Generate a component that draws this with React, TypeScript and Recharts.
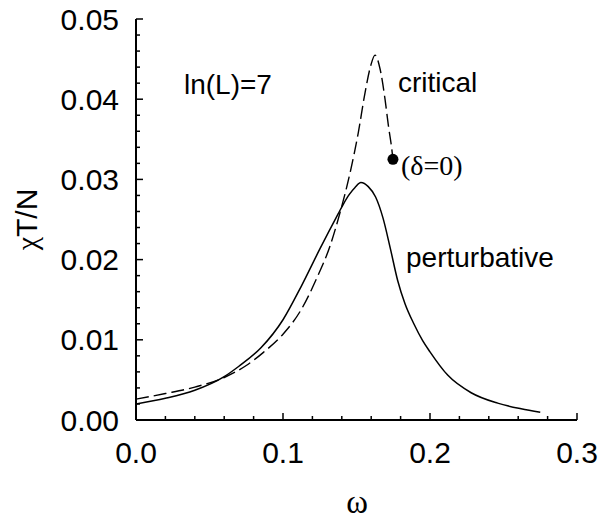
import {ComposedChart, Line, Scatter, XAxis, YAxis} from 'recharts';

// omega values and chi*T/N
const perturbativeX = [0, 0.02, 0.04, 0.06, 0.07, 0.085, 0.1, 0.1125, 0.125, 0.1375, 0.141, 0.145, 0.149, 0.153, 0.158, 0.163, 0.168, 0.173, 0.178, 0.183, 0.189, 0.195, 0.2, 0.212, 0.228, 0.246, 0.262, 0.275];
const perturbativeY = [0.002, 0.0027, 0.0037, 0.0054, 0.0067, 0.009, 0.0125, 0.0167, 0.0213, 0.0257, 0.0269, 0.0281, 0.029, 0.0296, 0.0291, 0.0278, 0.0252, 0.0214, 0.0174, 0.0145, 0.012, 0.0099, 0.0085, 0.0056, 0.0034, 0.0021, 0.0014, 0.00096];

const criticalX = [0, 0.02, 0.04, 0.06, 0.075, 0.0865, 0.1, 0.1125, 0.123, 0.132, 0.1387, 0.1456, 0.1512, 0.1558, 0.1597, 0.1626, 0.166, 0.1694, 0.1717, 0.174, 0.1748];
const criticalY = [0.0026, 0.0033, 0.0041, 0.0053, 0.0068, 0.0084, 0.0107, 0.0138, 0.0177, 0.0217, 0.0258, 0.0308, 0.0358, 0.0408, 0.0442, 0.0455, 0.0438, 0.04, 0.0367, 0.0338, 0.0325];

// end point of the critical curve (delta = 0)
const endPointX = [0.1748];
const endPointY = [0.0325];

const xTicks = [0, 0.02, 0.04, 0.06, 0.08, 0.1, 0.12, 0.14, 0.16, 0.18, 0.2, 0.22, 0.24, 0.26, 0.28, 0.3];
const yTicks = [0, 0.002, 0.004, 0.006, 0.008, 0.01, 0.012, 0.014, 0.016, 0.018, 0.02, 0.022, 0.024, 0.026, 0.028, 0.03, 0.032, 0.034, 0.036, 0.038, 0.04, 0.042, 0.044, 0.046, 0.048, 0.05];

const toPoints = (xs: number[], ys: number[]) => xs.map((x, i) => ({x, y: ys[i]}));
const perturbative = toPoints(perturbativeX, perturbativeY);
const critical = toPoints(criticalX, criticalY);
const endPoint = toPoints(endPointX, endPointY);

const SANS = '"Liberation Sans", Arial, sans-serif';
const SERIF = '"Liberation Serif", "Times New Roman", serif';

const MINOR = 4;
const MAJOR = 7;

const isMajor = (v: number, step: number) => Math.abs(v / step - Math.round(v / step)) < 1e-6;

// tickSize = 0 and tickMargin = 0, so (x, y) sits on the axis line; marks point inwards
const BottomTick = (props: any) => {
    const {x, y, payload} = props;
    const major = isMajor(payload.value, 0.1);
    return (
        <g>
            <path d={`M${x},${y}V${y - (major ? MAJOR : MINOR)}`} stroke="#000" strokeWidth={1.5}/>
            {major && (
                <text x={x} y={y + 43} textAnchor="middle" fontSize={30} fontFamily={SANS} fill="#000">
                    {payload.value.toFixed(1)}
                </text>
            )}
        </g>
    );
};

const TopTick = (props: any) => {
    const {x, y, payload} = props;
    const len = isMajor(payload.value, 0.1) ? MAJOR : MINOR;
    return <path d={`M${x},${y}V${y + len}`} stroke="#000" strokeWidth={1.5}/>;
};

const LeftTick = (props: any) => {
    const {x, y, payload} = props;
    const major = isMajor(payload.value, 0.01);
    return (
        <g>
            <path d={`M${x},${y}H${x + (major ? MAJOR : MINOR)}`} stroke="#000" strokeWidth={1.5}/>
            {major && (
                <text x={x - 17} y={y + 10.5} textAnchor="end" fontSize={30} fontFamily={SANS} fill="#000">
                    {payload.value.toFixed(2)}
                </text>
            )}
        </g>
    );
};

const RightTick = (props: any) => {
    const {x, y, payload} = props;
    const len = isMajor(payload.value, 0.01) ? MAJOR : MINOR;
    return <path d={`M${x},${y}H${x - len}`} stroke="#000" strokeWidth={1.5}/>;
};

const frame = {stroke: '#000', strokeWidth: 2};

export default function App() {
    return (
        <div style={{position: 'absolute', left: 0, top: 0, width: 607, height: 520, background: '#fff'}}>
            <ComposedChart width={607} height={520} margin={{top: 19, right: 30, bottom: 0, left: 36}}>
                <XAxis xAxisId="bottom" dataKey="x" type="number" domain={[0, 0.3]} ticks={xTicks}
                       interval={0} height={100} tickSize={0} tickMargin={0} tickLine={false}
                       axisLine={frame} tick={BottomTick} allowDataOverflow/>
                <XAxis xAxisId="top" orientation="top" dataKey="x" type="number" domain={[0, 0.3]}
                       ticks={xTicks} interval={0} height={0} tickSize={0} tickMargin={0}
                       tickLine={false} axisLine={frame} tick={TopTick} allowDataOverflow/>
                <YAxis yAxisId="left" type="number" domain={[0, 0.05]} ticks={yTicks} interval={0}
                       width={100} tickSize={0} tickMargin={0} tickLine={false} axisLine={frame}
                       tick={LeftTick} allowDataOverflow/>
                <YAxis yAxisId="right" orientation="right" type="number" domain={[0, 0.05]} ticks={yTicks}
                       interval={0} width={0} tickSize={0} tickMargin={0} tickLine={false}
                       axisLine={frame} tick={RightTick} allowDataOverflow/>
                <Line xAxisId="bottom" yAxisId="left" data={critical} dataKey="y" type="monotone"
                      stroke="#000" strokeWidth={1.4} strokeDasharray="13 5" dot={false}
                      isAnimationActive={false}/>
                <Line xAxisId="bottom" yAxisId="left" data={perturbative} dataKey="y" type="monotone"
                      stroke="#000" strokeWidth={1.5} dot={false} isAnimationActive={false}/>
                <Scatter xAxisId="bottom" yAxisId="left" data={endPoint} dataKey="y" isAnimationActive={false}
                         shape={(p: any) => <circle cx={p.cx} cy={p.cy} r={5.5} fill="#000"/>}/>
            </ComposedChart>
            <svg width={607} height={520} style={{position: 'absolute', left: 0, top: 0, pointerEvents: 'none'}}>
                <text x={184} y={94} fontSize={28} fontFamily={SANS} fill="#000">ln(L)=7</text>
                <text x={398} y={92} fontSize={28} fontFamily={SANS} fill="#000">critical</text>
                <text x={401} y={175} fontSize={28} fontFamily={SERIF} fill="#000">(δ=0)</text>
                <text x={406} y={267} fontSize={28} fontFamily={SANS} fill="#000">perturbative</text>
                <text transform="translate(37,219.5) rotate(-90)" textAnchor="middle" fontSize={30}
                      fontFamily={SANS} fill="#000">
                    <tspan fontFamily={SERIF}>χ</tspan>T/N
                </text>
                <text x={357} y={513} textAnchor="middle" fontSize={33} fontFamily={SERIF} fill="#000">ω</text>
            </svg>
        </div>
    );
}
